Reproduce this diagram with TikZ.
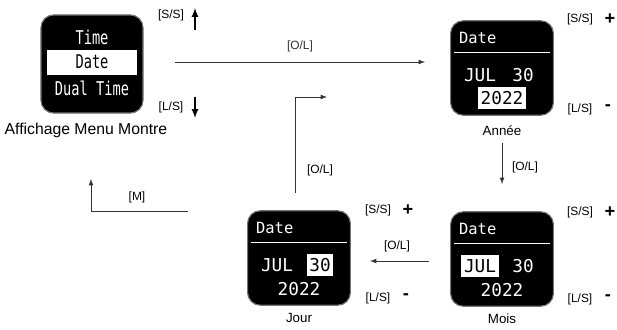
\documentclass[tikz,border=0pt]{standalone}
\usepackage{fontspec}
\setmainfont{Liberation Sans}
\newfontfamily\lcdfont{DejaVu Sans Mono}
\newfontfamily\lcdnarrow[FakeStretch=0.72]{DejaVu Sans Mono}
\usetikzlibrary{positioning}

\tikzset{
	screen/.style={draw=black!55, line width=0.8pt, fill=black, rounded corners=9pt, minimum width=2.57cm, minimum height=2.36cm, inner sep=0pt},
	lcd/.style={text=white, font=\lcdfont\fontsize{12.6}{13}\selectfont, inner sep=0pt},
	menutext/.style={lcd, font=\lcdnarrow\fontsize{13.5}{14}\selectfont},
	hilite/.style={fill=white, text=black, inner xsep=2pt, inner ysep=3pt},
	key/.style={font=\fontsize{8.5}{10}\selectfont, inner sep=0pt},
	sign/.style={font=\bfseries\fontsize{13}{14}\selectfont, inner sep=0pt},
	caption/.style={font=\fontsize{9.5}{11}\selectfont, inner sep=0pt},
	arr/.style={-latex, line width=0.6pt, black!80},
}

\begin{document}
\begin{tikzpicture}[x=0.025cm, y=-0.025cm]
	\useasboundingbox (0,0) rectangle (617,329);
	
	%watch screens
	\node[screen, minimum width=2.55cm, minimum height=2.45cm] (menu) at (92,64) {};
	\node[screen] (annee) at (502,68) {};
	\node[screen] (mois) at (502,259) {};
	\node[screen] (jour) at (299,258) {};
	
	%menu screen
	\node[menutext] (mtime) at (92,37) {Time};
	\fill[white] (47,50) rectangle (137,75);
	\node[menutext, text=black] (mdate) at (92,62) {Date};
	\node[menutext] (mdual) at (92,88) {Dual Time};
	
	%date screens
	\foreach \s in {annee, mois, jour}{
		\node[lcd, font=\lcdfont\fontsize{11}{12}\selectfont, anchor=west] at ([xshift=0.22cm, yshift=-0.44cm]\s.north west) {Date};
		\draw[white, line width=0.9pt] ([xshift=0.1cm, yshift=-0.8cm]\s.north west) -- ([xshift=-0.1cm, yshift=-0.8cm]\s.north east);
	}
	\node[lcd] (ajul) at (480,75) {JUL};
	\node[lcd] (a30) at (523,75) {30};
	\node[lcd, hilite] (a2022) at (502,98) {2022};
	\node[lcd, hilite] (mjul) at (480,266) {JUL};
	\node[lcd] (m30) at (523,266) {30};
	\node[lcd] (m2022) at (502,290) {2022};
	\node[lcd] (jjul) at (277,265) {JUL};
	\node[lcd, hilite] (j30) at (320,265) {30};
	\node[lcd] (j2022) at (299,289) {2022};
	
	%captions
	\node[caption, font=\fontsize{11.2}{13}\selectfont] (menucap) at (86,130) {Affichage Menu Montre};
	\node[caption, below=0.25cm of annee] (anneecap) {Ann\'ee};
	\node[caption, below=0.18cm of mois] (moiscap) {Mois};
	\node[caption, below=0.18cm of jour] (jourcap) {Jour};
	
	%buttons
	\node[key] (mss) at (171,15) {[S/S]};
	\node[key] (mls) at (171,107) {[L/S]};
	\draw[-latex, line width=1.2pt] (195,30) -- (195,8);
	\draw[-latex, line width=1.2pt] (195,97) -- (195,118);
	\foreach \s/\x/\ya/\yb in {a/580/19/109, m/580/212/299, j/378/210/298}{
		\node[key] (\s ss) at (\x,\ya) {[S/S]};
		\node[sign, right=0.28cm of \s ss] (\s plus) {+};
		\node[key] (\s ls) at (\x,\yb) {[L/S]};
		\node[sign, right=0.3cm of \s ls, yshift=1pt] (\s minus) {-};
	}
	
	%transitions
	\coordinate (t1a) at (175,62);
	\coordinate (t1b) at (425,62);
	\draw[arr] (t1a) -- (t1b) node[key, midway, above=0.25cm] (t1lab) {[O/L]};
	\coordinate (t2a) at (502,143);
	\coordinate (t2b) at (502,184);
	\draw[arr] (t2a) -- (t2b);
	\node[key] (t2lab) at (525,167) {[O/L]};
	\coordinate (t3a) at (429,261);
	\coordinate (t3b) at (370,261);
	\draw[arr] (t3a) -- (t3b);
	\node[key] (t3lab) at (397,246) {[O/L]};
	\coordinate (t4a) at (295,193);
	\coordinate (t4b) at (327,97);
	\draw[arr] (t4a) |- (t4b);
	\node[key] (t4lab) at (320,170) {[O/L]};
	\coordinate (t5a) at (188,211);
	\coordinate (t5b) at (91,179);
	\draw[arr] (t5a) -| (t5b);
	\node[key] (t5lab) at (137,197) {[M]};
\end{tikzpicture}
\end{document}
